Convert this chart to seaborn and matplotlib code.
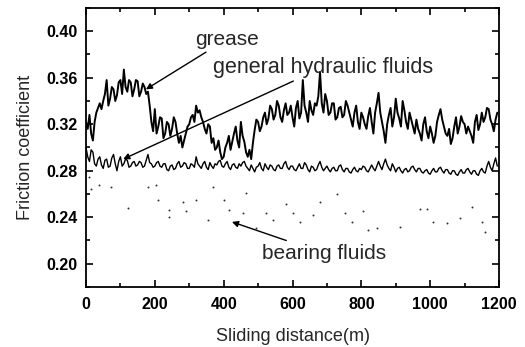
import numpy as np
import pandas as pd
import matplotlib
matplotlib.use("Agg")
import matplotlib.pyplot as plt
from matplotlib.ticker import MultipleLocator
import seaborn as sns

distance = np.arange(0, 1200, 5)

grease = [0.322, 0.316, 0.328, 0.312, 0.306, 0.322, 0.330, 0.334, 0.338, 0.333,
          0.340, 0.346, 0.358, 0.336, 0.342, 0.352, 0.350, 0.340, 0.345, 0.356,
          0.358, 0.346, 0.367, 0.352, 0.348, 0.358, 0.356, 0.344, 0.350, 0.358,
          0.357, 0.344, 0.348, 0.355, 0.352, 0.346, 0.348, 0.336, 0.322, 0.314,
          0.333, 0.312, 0.318, 0.326, 0.325, 0.308, 0.312, 0.322, 0.320, 0.310,
          0.316, 0.326, 0.322, 0.312, 0.304, 0.310, 0.300, 0.306, 0.312, 0.318,
          0.320, 0.326, 0.328, 0.322, 0.336, 0.330, 0.332, 0.326, 0.322, 0.316,
          0.312, 0.320, 0.318, 0.304, 0.308, 0.298, 0.300, 0.306, 0.296, 0.290,
          0.292, 0.300, 0.304, 0.310, 0.298, 0.305, 0.312, 0.318, 0.306, 0.300,
          0.322, 0.310, 0.305, 0.296, 0.292, 0.298, 0.290, 0.304, 0.315, 0.324,
          0.322, 0.314, 0.318, 0.326, 0.330, 0.320, 0.325, 0.336, 0.333, 0.324,
          0.328, 0.340, 0.336, 0.326, 0.322, 0.332, 0.338, 0.328, 0.330, 0.336,
          0.326, 0.318, 0.334, 0.340, 0.325, 0.330, 0.358, 0.336, 0.330, 0.322,
          0.340, 0.332, 0.328, 0.338, 0.336, 0.344, 0.365, 0.338, 0.330, 0.346,
          0.340, 0.328, 0.330, 0.338, 0.338, 0.324, 0.326, 0.334, 0.335, 0.326,
          0.328, 0.340, 0.336, 0.330, 0.324, 0.318, 0.330, 0.336, 0.322, 0.316,
          0.330, 0.326, 0.320, 0.316, 0.327, 0.334, 0.322, 0.312, 0.330, 0.338,
          0.347, 0.330, 0.322, 0.314, 0.304, 0.320, 0.328, 0.334, 0.318, 0.326,
          0.342, 0.330, 0.325, 0.318, 0.340, 0.332, 0.322, 0.316, 0.330, 0.324,
          0.318, 0.312, 0.324, 0.316, 0.312, 0.306, 0.320, 0.326, 0.314, 0.308,
          0.318, 0.312, 0.304, 0.310, 0.322, 0.328, 0.333, 0.324, 0.318, 0.312,
          0.310, 0.316, 0.303, 0.308, 0.318, 0.326, 0.312, 0.318, 0.327, 0.322,
          0.320, 0.312, 0.318, 0.314, 0.310, 0.304, 0.322, 0.328, 0.315, 0.320,
          0.330, 0.322, 0.326, 0.334, 0.333, 0.324, 0.320, 0.314, 0.324, 0.330]

hydraulic = [0.300, 0.292, 0.288, 0.298, 0.296, 0.286, 0.284, 0.290, 0.292, 0.285,
             0.282, 0.289, 0.290, 0.283, 0.284, 0.291, 0.294, 0.286, 0.280, 0.288,
             0.292, 0.284, 0.286, 0.290, 0.289, 0.283, 0.284, 0.287, 0.288, 0.284,
             0.285, 0.288, 0.287, 0.283, 0.284, 0.289, 0.294, 0.287, 0.286, 0.283,
             0.284, 0.287, 0.288, 0.284, 0.283, 0.286, 0.286, 0.281, 0.280, 0.284,
             0.285, 0.281, 0.282, 0.286, 0.288, 0.283, 0.284, 0.287, 0.286, 0.282,
             0.282, 0.286, 0.285, 0.283, 0.292, 0.286, 0.284, 0.282, 0.286, 0.288,
             0.283, 0.281, 0.287, 0.284, 0.282, 0.286, 0.285, 0.288, 0.289, 0.284,
             0.283, 0.286, 0.288, 0.283, 0.281, 0.285, 0.286, 0.283, 0.282, 0.286,
             0.284, 0.287, 0.288, 0.284, 0.282, 0.280, 0.285, 0.282, 0.279, 0.283,
             0.284, 0.287, 0.282, 0.280, 0.286, 0.283, 0.281, 0.285, 0.284, 0.281,
             0.280, 0.284, 0.285, 0.282, 0.282, 0.286, 0.288, 0.283, 0.281, 0.284,
             0.284, 0.281, 0.280, 0.283, 0.286, 0.282, 0.282, 0.287, 0.285, 0.281,
             0.279, 0.284, 0.283, 0.280, 0.281, 0.285, 0.288, 0.283, 0.280, 0.282,
             0.284, 0.281, 0.279, 0.282, 0.283, 0.280, 0.280, 0.284, 0.285, 0.281,
             0.279, 0.282, 0.282, 0.279, 0.278, 0.281, 0.283, 0.280, 0.279, 0.282,
             0.281, 0.284, 0.283, 0.280, 0.279, 0.282, 0.285, 0.282, 0.280, 0.284,
             0.288, 0.284, 0.281, 0.286, 0.290, 0.285, 0.282, 0.280, 0.286, 0.283,
             0.279, 0.282, 0.283, 0.280, 0.278, 0.281, 0.282, 0.279, 0.280, 0.283,
             0.284, 0.281, 0.279, 0.282, 0.282, 0.279, 0.278, 0.280, 0.281, 0.278,
             0.277, 0.280, 0.282, 0.279, 0.279, 0.282, 0.283, 0.280, 0.278, 0.281,
             0.281, 0.278, 0.277, 0.280, 0.280, 0.277, 0.276, 0.279, 0.281, 0.278,
             0.278, 0.281, 0.282, 0.279, 0.277, 0.280, 0.280, 0.277, 0.276, 0.280,
             0.282, 0.279, 0.278, 0.284, 0.288, 0.283, 0.280, 0.286, 0.291, 0.284]

bearing_x = [9, 14, 38, 73, 122, 180, 203, 209, 241, 241, 282, 290, 320, 354, 369,
             401, 415, 456, 465, 494, 523, 543, 581, 602, 622, 660, 680, 729, 752,
             773, 805, 819, 845, 912, 970, 990, 1008, 1049, 1087, 1122, 1151, 1160]
bearing_y = [0.275, 0.264, 0.268, 0.266, 0.248, 0.266, 0.268, 0.255, 0.246, 0.240,
             0.253, 0.245, 0.255, 0.238, 0.266, 0.255, 0.246, 0.244, 0.261, 0.231,
             0.244, 0.238, 0.251, 0.244, 0.236, 0.242, 0.253, 0.260, 0.244, 0.236,
             0.245, 0.229, 0.231, 0.232, 0.247, 0.247, 0.236, 0.235, 0.239, 0.249,
             0.236, 0.227]

sns.set_style("ticks")
plt.rcParams['font.family'] = ['Liberation Sans', 'DejaVu Sans']

fig = plt.figure(figsize=(5.25, 3.47), dpi=100)
ax = fig.add_axes([0.1638, 0.1729, 0.7867, 0.8041])

df = pd.DataFrame({"d": distance, "grease": grease, "hyd": hydraulic})
sns.lineplot(data=df, x="d", y="grease", ax=ax, color="black", linewidth=1.4)
sns.lineplot(data=df, x="d", y="hyd", ax=ax, color="black", linewidth=1.0)
sns.scatterplot(x=bearing_x, y=bearing_y, ax=ax, color="#333333", s=2, linewidth=0)

ax.set_xlim(0, 1200)
ax.set_ylim(0.18, 0.42)
ax.xaxis.set_major_locator(MultipleLocator(200))
ax.xaxis.set_minor_locator(MultipleLocator(100))
ax.yaxis.set_minor_locator(MultipleLocator(0.02))
ax.set_yticks([0.20, 0.24, 0.28, 0.32, 0.36, 0.40])
ax.set_yticklabels(["0.20", "0.24", "0.28", "0.32", "0.36", "0.40"])
ax.tick_params(which="both", direction="in", top=True, right=True, width=1.2,
               colors="black")
ax.tick_params(which="major", length=5, labelsize=11.5)
ax.tick_params(which="minor", length=3)
ax.tick_params(axis="x", which="major", pad=7)
ax.tick_params(axis="y", which="major", pad=6)
for lab in ax.get_xticklabels() + ax.get_yticklabels():
    lab.set_fontweight("bold")
for sp in ax.spines.values():
    sp.set_visible(True)
    sp.set_linewidth(1.3)
    sp.set_color("black")

ax.set_xlabel("Sliding distance(m)", fontsize=13, labelpad=12)
ax.set_ylabel("Friction coefficient", fontsize=13, labelpad=9)

arrow = dict(arrowstyle="-|>", color="black", lw=1.0, mutation_scale=9,
             shrinkA=0, shrinkB=0)
ax.annotate("grease", xy=(174, 0.350), xytext=(316, 0.393), fontsize=15,
            va="center", ha="left", arrowprops=arrow)
ax.annotate("general hydraulic fluids", xy=(108, 0.290), xytext=(370, 0.369),
            fontsize=15.5, va="center", ha="left", arrowprops=arrow)
ax.annotate("bearing fluids", xy=(424, 0.236), xytext=(510, 0.209),
            fontsize=15, va="center", ha="left", arrowprops=arrow)

fig.savefig("out.png", dpi=100)
